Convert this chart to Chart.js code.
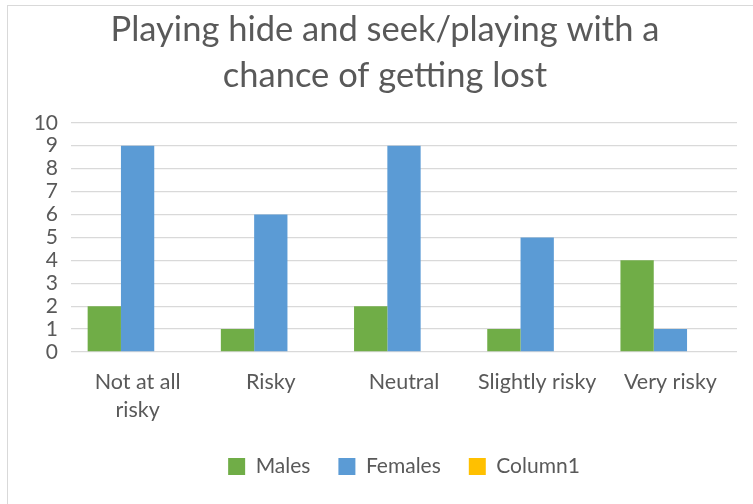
<!DOCTYPE html>
<html>
<head>
<meta charset="utf-8">
<script src="https://cdn.jsdelivr.net/npm/chart.js@4.4.1/dist/chart.umd.min.js"></script>
<style>
  html, body { margin: 0; padding: 0; background: #fff; }
  #wrap { position: relative; width: 753px; height: 504px; overflow: hidden; }
  #frame {
    position: absolute; left: 7px; top: 5px; width: 800px; height: 600px;
    border-top: 1px solid #d9d9d9; border-left: 1px solid #d9d9d9;
  }
  #risk-chart { position: absolute; left: 0; top: 0; }
</style>
</head>
<body>
<div id="wrap">
  <div id="frame"></div>
  <canvas id="risk-chart" width="753" height="504"></canvas>
</div>
<script>
const titleLines = ['Playing hide and seek/playing with a', 'chance of getting lost'];
const categories = [['Not at all', 'risky'], 'Risky', 'Neutral', 'Slightly risky', 'Very risky'];
const males = [2, 1, 2, 1, 4];
const females = [9, 6, 9, 5, 1];
const column1 = [null, null, null, null, null]; // empty column, still takes its slot
const yTicks = [0, 1, 2, 3, 4, 5, 6, 7, 8, 9, 10];

const textColor = '#595959';
const fontFamily = 'Lato, "Open Sans", sans-serif';

new Chart(document.getElementById('risk-chart'), {
    type: 'bar',
    data: {
        labels: categories,
        datasets: [
            { label: 'Males', data: males, backgroundColor: '#70AD47' },
            { label: 'Females', data: females, backgroundColor: '#5B9BD5' },
            { label: 'Column1', data: column1, backgroundColor: '#FFC000' },
        ]
    },
    options: {
        responsive: false,
        animation: false,
        categoryPercentage: 0.75,
        barPercentage: 1.0,
        layout: {
            padding: { left: 33, right: 16, top: 0, bottom: 17 }
        },
        plugins: {
            title: {
                display: true,
                text: titleLines,
                color: textColor,
                font: { family: fontFamily, size: 34.5, weight: 'normal', lineHeight: 1.33 },
                padding: { top: 7, bottom: 24 }
            },
            legend: {
                position: 'bottom',
                fullSize: false,
                labels: {
                    color: textColor,
                    font: { family: fontFamily, size: 21 },
                    boxWidth: 17,
                    boxHeight: 17,
                    padding: 28
                }
            },
            tooltip: { enabled: false }
        },
        scales: {
            x: {
                grid: { display: false, drawTicks: false },
                border: { display: false },
                ticks: {
                    color: textColor,
                    font: { family: fontFamily, size: 21.5, lineHeight: 1.3 },
                    padding: 16,
                    maxRotation: 0,
                    autoSkip: false
                },
                afterFit: (scale) => { scale.height = 76; }
            },
            y: {
                min: 0,
                max: 10,
                afterBuildTicks: (scale) => { scale.ticks = yTicks.map(v => ({ value: v })); },
                grid: { color: '#d9d9d9', lineWidth: 1.3, drawTicks: false },
                border: { display: false },
                ticks: {
                    color: textColor,
                    font: { family: fontFamily, size: 21 },
                    padding: 13,
                    autoSkip: false
                },
                afterFit: (scale) => { scale.width = 38; }
            }
        }
    }
});
</script>
</body>
</html>
